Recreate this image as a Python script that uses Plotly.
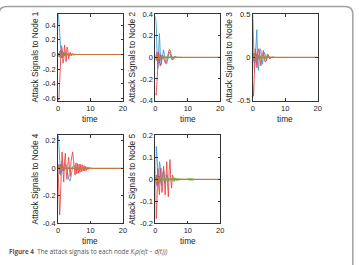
import plotly.graph_objects as go

# ---------------- data ----------------
T = [0.0, 0.25, 0.5, 0.75, 1.0, 1.25, 1.5, 1.75, 2.0, 2.25, 2.5, 2.75, 3.0, 3.25, 3.5, 3.75,
     4.0, 4.25, 4.5, 4.75, 5.0, 5.25, 5.5, 5.75, 6.0, 6.25, 6.5, 6.75, 7.0, 7.25, 7.5, 7.75,
     8.0, 8.25, 8.5, 8.75, 9.0, 9.25, 9.5, 9.75, 10.0, 10.25, 10.5, 10.75, 11.0, 11.25, 11.5,
     11.75, 12.0]
T_O = [0.0, 0.25, 0.5, 0.75, 1.0, 1.25, 1.5, 1.75, 2.0, 20.0]

# Node 1
B1 = [0.62, 0.50, 0.30, 0.12, 0.03, -0.03, 0.02, -0.02, 0.02, -0.01, 0.01, -0.01, 0.0]
R1 = [-0.60, -0.63, -0.38, 0.00, 0.12, 0.09, -0.12, -0.07, 0.13, 0.03, -0.10, 0.10, 0.07,
      -0.06, 0.02, 0.03, -0.02, 0.01, 0.01, -0.01, 0.0]
G1 = [0.0, 0.01, 0.03, -0.02, 0.02, -0.03, 0.03, -0.02, 0.025, -0.02, 0.02, -0.018, 0.018,
      -0.015, 0.015, -0.012, 0.012, -0.01, 0.01, -0.01, 0.01, -0.008, 0.008, -0.006, 0.006,
      -0.005, 0.005, -0.003, 0.003, 0.0]
P1 = [0.0, 0.02, -0.04, 0.06, -0.05, 0.05, -0.04, 0.03, -0.02, 0.02, -0.01, 0.01, 0.0]
O1 = [0.0, -0.03, 0.04, 0.02, -0.02, 0.01, -0.01, 0.005, 0.0, 0.0]

# Node 2
B2 = [0.38, 0.30, 0.05, -0.10, 0.05, 0.22, 0.04, -0.07, -0.02, 0.06, 0.07, 0.03, -0.03,
      -0.06, -0.06, -0.02, 0.03, 0.05, 0.04, 0.01, -0.02, -0.02, -0.01, 0.01, 0.01, 0.0]
R2 = [-0.33, -0.35, -0.22, 0.00, 0.05, -0.04, -0.08, -0.06, -0.02, 0.02, 0.00, -0.03, -0.05,
      -0.05, -0.03, 0.01, 0.05, 0.07, 0.07, 0.04, 0.00, -0.02, -0.02, -0.01, 0.01, 0.01, 0.0]
G2 = [0.0, 0.02, -0.02, 0.02, -0.02, 0.015, -0.015, 0.015, -0.012, 0.012, -0.01, 0.01, -0.01,
      0.01, -0.008, 0.008, -0.008, 0.008, -0.006, 0.006, -0.008, 0.008, -0.008, 0.008, -0.006,
      0.006, -0.006, 0.006, -0.005, 0.005, -0.004, 0.004, -0.003, 0.0]
P2 = [0.0, -0.03, 0.05, -0.06, 0.04, -0.05, 0.03, -0.02, 0.02, -0.01, 0.0]
O2 = [0.0, 0.03, -0.03, 0.02, -0.02, 0.01, -0.01, 0.005, 0.0, 0.0]

# Node 3
B3 = [0.50, 0.20, -0.15, -0.05, 0.20, 0.32, 0.00, -0.15, -0.05, 0.10, 0.08, -0.05, -0.08,
      0.00, 0.06, 0.04, -0.03, -0.04, 0.00, 0.03, 0.01, -0.01, -0.01, 0.0]
R3 = [-0.30, -0.45, -0.20, 0.10, 0.05, -0.12, -0.05, 0.10, 0.08, -0.06, -0.10, -0.02, 0.07,
      0.08, 0.02, -0.05, -0.05, 0.00, 0.04, 0.03, -0.01, -0.02, -0.01, 0.01, 0.01, 0.0]
G3 = [0.0, 0.03, -0.03, 0.03, -0.025, 0.025, -0.02, 0.02, -0.02, 0.02, -0.015, 0.015, -0.015,
      0.015, -0.012, 0.012, -0.01, 0.01, -0.01, 0.01, -0.008, 0.008, -0.006, 0.006, -0.005,
      0.005, -0.004, 0.004, -0.002, 0.0]
P3 = [0.0, 0.05, -0.06, 0.05, -0.05, 0.04, -0.03, 0.02, -0.02, 0.01, 0.0]
O3 = [0.0, -0.04, 0.04, -0.03, 0.02, -0.02, 0.01, -0.005, 0.0, 0.0]

# Node 4
B4 = [0.30, 0.18, 0.05, -0.05, -0.02, 0.05, 0.03, -0.02, 0.00, 0.03, 0.02, -0.02, -0.05,
      -0.07, -0.09, -0.09, -0.06, -0.02, 0.01, 0.02, 0.02, 0.01, 0.00, -0.01, -0.01, 0.0]
R4 = [0.00, -0.20, -0.34, -0.20, 0.05, 0.12, 0.00, -0.10, 0.05, 0.11, -0.02, -0.08, 0.02,
      0.08, 0.00, -0.06, 0.05, 0.11, 0.12, 0.06, -0.03, -0.05, 0.04, -0.04, 0.035, -0.035,
      0.03, -0.03, 0.03, -0.025, 0.025, -0.02, 0.02, -0.02, 0.015, -0.015, 0.01, -0.01,
      0.008, -0.005, 0.005, 0.0]
G4 = [0.0, 0.01, -0.01, 0.012, -0.01, 0.01, -0.01, 0.01, -0.008, 0.008, -0.008, 0.008,
      -0.006, 0.006, -0.006, 0.006, -0.005, 0.005, -0.005, 0.005, -0.004, 0.004, -0.004,
      0.004, -0.004, 0.004, -0.003, 0.003, -0.003, 0.003, -0.003, 0.003, -0.003, 0.003,
      -0.003, 0.003, -0.004, 0.004, -0.004, 0.004, -0.003, 0.003, -0.002, 0.002, 0.0]
P4 = [0.0, 0.03, -0.04, 0.03, -0.03, 0.02, -0.02, 0.01, 0.0]
O4 = [0.0, 0.02, -0.02, 0.02, -0.015, 0.01, -0.01, 0.005, 0.0, 0.0]

# Node 5
B5 = [0.00, 0.15, 0.10, 0.02, -0.02, 0.08, 0.06, -0.02, -0.03, 0.03, 0.04, 0.00, -0.02,
      0.00, 0.02, 0.01, -0.01, 0.0]
R5 = [0.00, -0.18, -0.10, 0.05, -0.03, -0.07, 0.03, 0.05, -0.06, -0.04, 0.06, 0.02, -0.07,
      0.00, 0.08, -0.02, -0.08, 0.04, 0.09, 0.00, -0.04, 0.02, 0.01, -0.01, 0.005, 0.0]
G5 = [0.0, 0.01, -0.01, 0.01, -0.01, 0.008, -0.008, 0.008, -0.008, 0.006, -0.006, 0.006,
      -0.006, 0.005, -0.005, 0.005, -0.005, 0.005, -0.005, 0.005, -0.005, 0.006, -0.006,
      0.007, -0.007, 0.007, -0.007, 0.006, -0.006, 0.004, -0.004, 0.003, -0.003, 0.002,
      -0.002, 0.002, -0.002, 0.002, -0.002, 0.003, -0.003, 0.005, -0.005, 0.006, -0.006,
      0.005, -0.005, 0.003, 0.0]
P5 = [0.0, 0.02, -0.03, 0.02, -0.02, 0.015, -0.01, 0.0]
O5 = [0.0, -0.02, 0.02, -0.015, 0.01, -0.01, 0.005, 0.0, 0.0, 0.0]

NODES = [
    dict(B=B1, R=R1, G=G1, P=P1, O=O1),
    dict(B=B2, R=R2, G=G2, P=P2, O=O2),
    dict(B=B3, R=R3, G=G3, P=P3, O=O3),
    dict(B=B4, R=R4, G=G4, P=P4, O=O4),
    dict(B=B5, R=R5, G=G5, P=P5, O=O5),
]
Y_TITLES = ["Attack Signals to Node 1", "Attack Signals to Node 2", "Attack Signals to Node 3",
            "Attack Signals to Node 4", "Attack Signals to Node 5"]
Y_RANGES = [[-0.63, 0.55], [-0.4, 0.4], [-0.5, 0.5], [-0.4, 0.24], [-0.2, 0.2]]
Y_TICKS = [[-0.6, -0.4, -0.2, 0, 0.2, 0.4], [-0.4, -0.2, 0, 0.2, 0.4], [-0.5, 0, 0.5],
           [-0.4, -0.2, 0, 0.2], [-0.2, -0.1, 0, 0.1, 0.2]]
Y_TICKTEXT = [["-0.6", "-0.4", "-0.2", "0", "0.2", "0.4"], ["-0.4", "-0.2", "0", "0.2", "0.4"],
              ["-0.5", "0", "0.5"], ["-0.4", "-0.2", "0", "0.2"],
              ["-0.2", "-0.1", "0", "0.1", "0.2"]]
X_TICKS = [0, 10, 20]
X_TICKTEXT = ["0", "10", "20"]
X_TITLE = "time"
CAPTION = ("<b>Figure 4</b>  The attack signals to each node "
           "<i>K<sub>i</sub>ρ(e(t − d(t)))</i>")

# ---------------- layout geometry ----------------
W, H = 359, 265
COLS_PX = [(57, 123), (156, 222), (255, 321)]
ROWS_PX = [(10.5, 100), (136, 227)]
POS = [(0, 0), (0, 1), (0, 2), (1, 0), (1, 1)]

COLORS = dict(B="#3C9AD8", R="#E5484A", G="#6CBF55", P="#9466AE", O="#C9773A")
AX_COLOR = "#333333"
TICK_FONT = dict(family="Liberation Sans, Arial, sans-serif", size=7.5, color="#222222")
TITLE_FONT = dict(family="Liberation Sans, Arial, sans-serif", size=8.3, color="#222222")

fig = go.Figure()
layout = dict(width=W, height=H, margin=dict(l=0, r=0, t=0, b=0),
              paper_bgcolor="white", plot_bgcolor="white", showlegend=False)
annotations = []

for i, node in enumerate(NODES):
    r, c = POS[i]
    x0, x1 = COLS_PX[c]
    ytop, ybot = ROWS_PX[r]
    xd = [x0 / W, x1 / W]
    yd = [1 - ybot / H, 1 - ytop / H]
    sfx = "" if i == 0 else str(i + 1)
    xa, ya = "x" + sfx, "y" + sfx
    for key in ["B", "R", "G", "P"]:
        vals = node[key]
        fig.add_trace(go.Scatter(x=T[:len(vals)], y=vals, mode="lines", xaxis=xa, yaxis=ya,
                                 line=dict(color=COLORS[key], width=0.9), hoverinfo="skip"))
    fig.add_trace(go.Scatter(x=T_O, y=node["O"], mode="lines", xaxis=xa, yaxis=ya,
                             line=dict(color=COLORS["O"], width=1.1), hoverinfo="skip"))
    common = dict(showline=True, linecolor=AX_COLOR, linewidth=0.8, mirror="ticks",
                  ticks="inside", ticklen=2.5, tickwidth=0.8, tickcolor=AX_COLOR,
                  showgrid=False, zeroline=False, tickfont=TICK_FONT, fixedrange=True)
    layout["xaxis" + sfx] = dict(domain=xd, range=[0, 20], tickmode="array",
                                 tickvals=X_TICKS, ticktext=X_TICKTEXT,
                                 anchor=ya, **common)
    layout["yaxis" + sfx] = dict(domain=yd, range=Y_RANGES[i], tickmode="array",
                                 tickvals=Y_TICKS[i], ticktext=Y_TICKTEXT[i],
                                 anchor=xa, **common)
    annotations.append(dict(text=Y_TITLES[i], xref="paper", yref="paper", x=xd[0],
                            y=(yd[0] + yd[1]) / 2, xanchor="center", yanchor="middle",
                            xshift=-23, textangle=-90, showarrow=False, font=TITLE_FONT))
    annotations.append(dict(text=X_TITLE, xref="paper", yref="paper",
                            x=(xd[0] + xd[1]) / 2, y=yd[0], xanchor="center",
                            yanchor="middle", yshift=-18, showarrow=False, font=TITLE_FONT))

annotations.append(dict(text=CAPTION, xref="paper", yref="paper", x=5 / W, y=1 - 256 / H,
                        xanchor="left", yanchor="middle", showarrow=False,
                        font=dict(family="Open Sans, sans-serif", size=6.3, color="#555555")))

# rounded frame (left edge off-canvas)
L, R = -3 / W, 356.8 / W
TOP = 1 - 2.5 / H
rx, ry = 8 / W, 8 / H
frame_path = (f"M {L},-0.2 L {L},{TOP - ry} Q {L},{TOP} {L + rx},{TOP} "
              f"L {R - rx},{TOP} Q {R},{TOP} {R},{TOP - ry} L {R},-0.2")
layout["shapes"] = [dict(type="path", xref="paper", yref="paper", path=frame_path,
                         line=dict(color="#A0A0A0", width=1.5))]
layout["annotations"] = annotations

fig.update_layout(**layout)
fig.write_html("out.html", config={"displayModeBar": False})
